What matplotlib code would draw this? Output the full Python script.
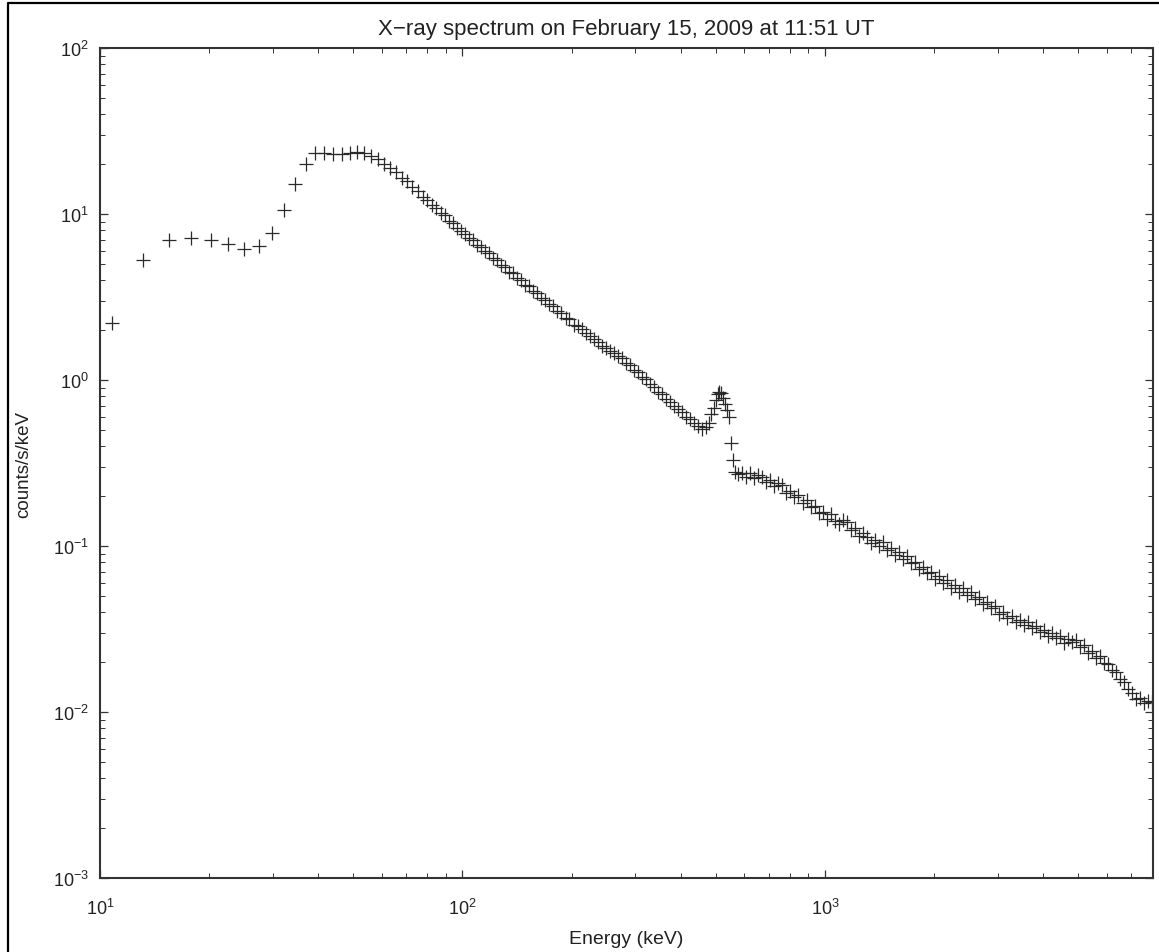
import matplotlib
matplotlib.use("Agg")
import matplotlib.pyplot as plt
from matplotlib.lines import Line2D
from matplotlib.ticker import LogLocator, NullFormatter

plt.rcParams['font.family'] = ['Liberation Sans', 'DejaVu Sans']
plt.rcParams['mathtext.fontset'] = 'custom'
plt.rcParams['mathtext.rm'] = 'Liberation Sans'
plt.rcParams['mathtext.it'] = 'Liberation Sans:italic'
plt.rcParams['mathtext.bf'] = 'Liberation Sans:bold'

title = "X\u2212ray spectrum on February 15, 2009 at 11:51 UT"
xlabel = "Energy (keV)"
ylabel = "counts/s/keV"

# low-energy bins (keV) and rates (counts/s/keV)
energy_low = [10.8, 13.1, 15.5, 17.8, 20.2, 22.6, 25.0, 27.4, 29.9, 32.2, 34.5, 36.9, 39.2,
              41.6, 44.0, 46.4, 48.8, 51.2, 53.6, 56.0, 58.4, 60.8, 63.2, 65.6, 68.0, 70.4,
              72.8, 75.2, 77.6, 80.0, 82.4, 84.8, 87.2, 89.6, 92.0, 94.4, 96.8, 99.2]
rate_low = [2.2, 5.3, 7.0, 7.2, 6.95, 6.6, 6.15, 6.45, 7.65, 10.5, 15.1, 20.1, 23.4,
            23.4, 23.1, 23.0, 23.4, 23.6, 23.3, 22.5, 21.4, 20.0, 18.9, 17.8, 16.5, 15.7,
            14.5, 13.8, 12.7, 12.2, 11.3, 10.9, 10.1, 9.8, 9.1, 8.8, 8.2, 7.9]

# mid-energy bins up to the 511 keV line
energy_mid = [101.8, 104.4, 107.1, 109.9, 112.7, 115.6, 118.6, 121.7, 124.8, 128.0, 131.3,
              134.7, 138.2, 141.8, 145.4, 149.2, 153.0, 157.0, 161.0, 165.2, 169.4, 173.8,
              178.3, 182.9, 187.6, 192.5, 197.4, 202.5, 207.8, 213.1, 218.6, 224.3, 230.1,
              236.0, 242.1, 248.4, 254.8, 261.4, 268.1, 275.1, 282.2, 289.5, 296.9, 304.6,
              312.5, 320.6, 328.9, 337.4, 346.1, 355.0, 364.2, 373.6, 383.3, 393.2, 403.3,
              413.8, 424.5, 435.4, 446.7, 458.2, 470.1, 478.0, 486.0, 494.0, 500.0, 506.0,
              511.0, 517.0, 523.0, 530.0, 537.0, 545.0, 552.0, 558.0, 565.0, 576.6]
rate_mid = [7.6, 7.15, 6.95, 6.5, 6.35, 5.95, 5.8, 5.4, 5.3, 4.95, 4.82, 4.5, 4.4, 4.1,
            4.02, 3.75, 3.68, 3.42, 3.35, 3.12, 3.05, 2.86, 2.79, 2.6, 2.55, 2.36, 2.33,
            2.15, 2.12, 2.02, 1.93, 1.84, 1.76, 1.70, 1.61, 1.56, 1.49, 1.46, 1.39, 1.35,
            1.27, 1.23, 1.15, 1.12, 1.04, 1.01, 0.94, 0.91, 0.85, 0.82, 0.77, 0.74, 0.70,
            0.67, 0.64, 0.60, 0.58, 0.55, 0.53, 0.51, 0.52, 0.55, 0.62, 0.68, 0.76, 0.82,
            0.85, 0.83, 0.78, 0.72, 0.66, 0.60, 0.42, 0.33, 0.28, 0.27]

# high-energy bins
energy_high = [591.5, 606.8, 622.5, 638.6, 655.1, 672.0, 689.4, 707.2, 725.5, 744.2, 763.5,
               783.2, 803.5, 824.2, 845.6, 867.4, 889.9, 912.9, 936.5, 960.7, 985.5, 1011,
               1037, 1064, 1092, 1120, 1149, 1178, 1209, 1240, 1272, 1305, 1339, 1374, 1409,
               1446, 1483, 1521, 1561, 1601, 1643, 1685, 1729, 1773, 1819, 1866, 1914, 1964,
               2015, 2067, 2120, 2175, 2231, 2289, 2348, 2409, 2471, 2535, 2601, 2668, 2737,
               2808, 2880, 2955, 3031, 3110, 3190, 3273, 3357, 3444, 3533, 3625, 3718, 3815,
               3913, 4014, 4118, 4225, 4334, 4446, 4561, 4679, 4800, 4924, 5052, 5182, 5316,
               5454, 5595, 5740, 5888, 6040, 6197, 6357, 6521, 6690, 6863, 7040, 7222, 7409,
               7601, 7797, 7999]
rate_high = [0.275, 0.262, 0.276, 0.258, 0.268, 0.262, 0.243, 0.250, 0.229, 0.238, 0.232,
             0.209, 0.214, 0.196, 0.203, 0.182, 0.188, 0.172, 0.175, 0.157, 0.161, 0.146,
             0.155, 0.141, 0.136, 0.143, 0.139, 0.124, 0.128, 0.115, 0.119, 0.114, 0.104,
             0.109, 0.100, 0.105, 0.095, 0.097, 0.088, 0.092, 0.083, 0.087, 0.079, 0.080,
             0.073, 0.075, 0.069, 0.070, 0.063, 0.066, 0.060, 0.062, 0.056, 0.058, 0.053,
             0.0555, 0.051, 0.0525, 0.048, 0.0495, 0.045, 0.0462, 0.0422, 0.0433, 0.0392,
             0.0402, 0.0368, 0.0381, 0.0349, 0.0360, 0.0335, 0.0348, 0.0320, 0.0330, 0.0302,
             0.0311, 0.0288, 0.0298, 0.0278, 0.0285, 0.0262, 0.0276, 0.0264, 0.0272, 0.0245,
             0.0252, 0.0228, 0.0232, 0.0212, 0.0216, 0.0197, 0.0195, 0.0178, 0.0174, 0.0157,
             0.0152, 0.0137, 0.0131, 0.0120, 0.0121, 0.0114, 0.0117, 0.0115]

energy = energy_low + energy_mid + energy_high
rate = rate_low + rate_mid + rate_high

W, H = 1159, 953
fig = plt.figure(figsize=(W / 100, H / 100), dpi=100)
ax = fig.add_axes([100 / W, 1 - 879 / H, (1153 - 100) / W, (879 - 49) / H])

ax.plot(energy, rate, linestyle='none', marker='+', markersize=10, markeredgewidth=0.9,
        color='#2a2a2a')

ax.set_xscale('log')
ax.set_yscale('log')
ax.set_xlim(10, 8040)
ax.set_ylim(1e-3, 1e2)

ax.xaxis.set_major_locator(LogLocator(base=10, numticks=10))
ax.yaxis.set_major_locator(LogLocator(base=10, numticks=10))
ax.xaxis.set_minor_locator(LogLocator(base=10, subs=range(2, 10), numticks=20))
ax.yaxis.set_minor_locator(LogLocator(base=10, subs=range(2, 10), numticks=20))
ax.xaxis.set_minor_formatter(NullFormatter())
ax.yaxis.set_minor_formatter(NullFormatter())

ax.tick_params(which='both', direction='in', top=True, right=True, colors='#333333',
               labelcolor='#222222', labelsize=13)
ax.tick_params(which='major', length=6, width=0.9)
ax.tick_params(axis='y', which='major', pad=8)
ax.tick_params(axis='x', which='major', pad=14)
ax.tick_params(which='minor', length=3.5, width=0.7)
for s in ax.spines.values():
    s.set_linewidth(1.5)
    s.set_color('#333333')

ax.set_title(title, fontsize=16, pad=10, color='#222222')
ax.set_xlabel(xlabel, fontsize=14, labelpad=9, color='#222222')
ax.set_ylabel(ylabel, fontsize=13.5, labelpad=15, color='#222222')

# outer frame lines (left and top)
fig.add_artist(Line2D([8 / W, 8 / W, 1.0], [0.0, 1 - 4 / H, 1 - 4 / H],
                      transform=fig.transFigure, color='black', linewidth=1.6))

fig.savefig('out.png', dpi=100)
